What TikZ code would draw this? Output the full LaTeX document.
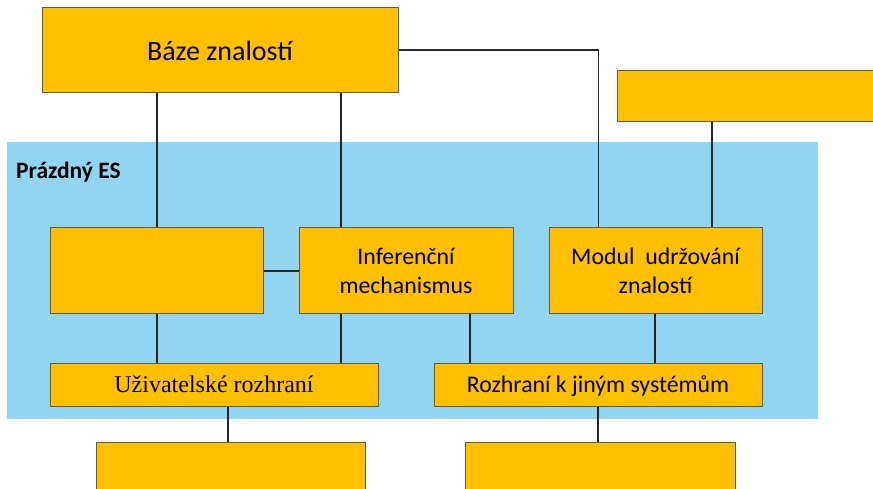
\documentclass[tikz,border=0pt]{standalone}
\usepackage{fontspec}
\setmainfont{Carlito}
\newfontfamily\timesfont{Liberation Serif}
\definecolor{boxorange}{HTML}{FFC000}
\definecolor{esblue}{HTML}{92D5F0}
\definecolor{boxborder}{HTML}{5A5A5A}
\begin{document}
\begin{tikzpicture}[x=1pt,y=-1pt,
  box/.style={draw=boxborder,line width=1pt,fill=boxorange,rectangle,inner sep=0pt,align=center,
    font=\fontsize{23.8}{29}\selectfont},
  conn/.style={draw=black!85,line width=1.8pt}]
\useasboundingbox (0,0) rectangle (873,489);
\clip (0,0) rectangle (873,489);
% blue area
\fill[esblue] (7,142) rectangle (818,419);
\node[anchor=west,inner sep=0pt,font=\fontsize{23.5}{27}\selectfont\bfseries] (es) at (16,172) {Prázdný ES};
% boxes
\node[box,minimum width=356pt,minimum height=85pt,font=\fontsize{28}{32}\selectfont] (base) at (220,50.5) {Báze znalostí};
\node[box,minimum width=290pt,minimum height=51pt] (tr) at (762,96.5) {};
\node[box,minimum width=213pt,minimum height=85pt] (left) at (156.5,270.5) {};
\node[box,minimum width=214pt,minimum height=85pt] (inf) at (406,270.5) {Inferenční\\mechanismus};
\node[box,minimum width=213pt,minimum height=85pt] (mod) at (655.5,270.5) {Modul\ \ udržování\\znalostí};
\node[box,minimum width=328pt,minimum height=43pt,font=\timesfont\fontsize{24}{28}\selectfont] (uz) at (214,384.5) {Uživatelské rozhraní};
\node[box,minimum width=328pt,minimum height=43pt] (rk) at (598,384.5) {\raisebox{-2pt}[\height][\depth]{Rozhraní k jiným systémům}};
\node[box,minimum width=269pt,minimum height=78pt] (bl) at (230.5,481) {};
\node[box,minimum width=270pt,minimum height=78pt] (br) at (600,481) {};
% helper coordinates
\coordinate (xa) at (157,0);
\coordinate (xb) at (341,0);
\coordinate (xc) at (470,0);
\coordinate (xd) at (655,0);
\coordinate (xe) at (712,0);
\coordinate (xf) at (228,0);
\coordinate (corner) at (598.5,50);
\coordinate (ym) at (0,271);
% connectors
\draw[conn] (base.south -| xa) -- (left.north -| xa);
\draw[conn] (base.south -| xb) -- (inf.north -| xb);
\draw[conn] (base.east |- corner) -- (corner) -- (mod.north -| corner);
\draw[conn] (tr.south -| xe) -- (mod.north -| xe);
\draw[conn] (left.east |- ym) -- (inf.west |- ym);
\draw[conn] (left.south -| xa) -- (uz.north -| xa);
\draw[conn] (inf.south -| xb) -- (uz.north -| xb);
\draw[conn] (inf.south -| xc) -- (rk.north -| xc);
\draw[conn] (mod.south -| xd) -- (rk.north -| xd);
\draw[conn] (uz.south -| xf) -- (bl.north -| xf);
\draw[conn] (rk.south) -- (br.north -| rk.south);
\end{tikzpicture}
\end{document}
